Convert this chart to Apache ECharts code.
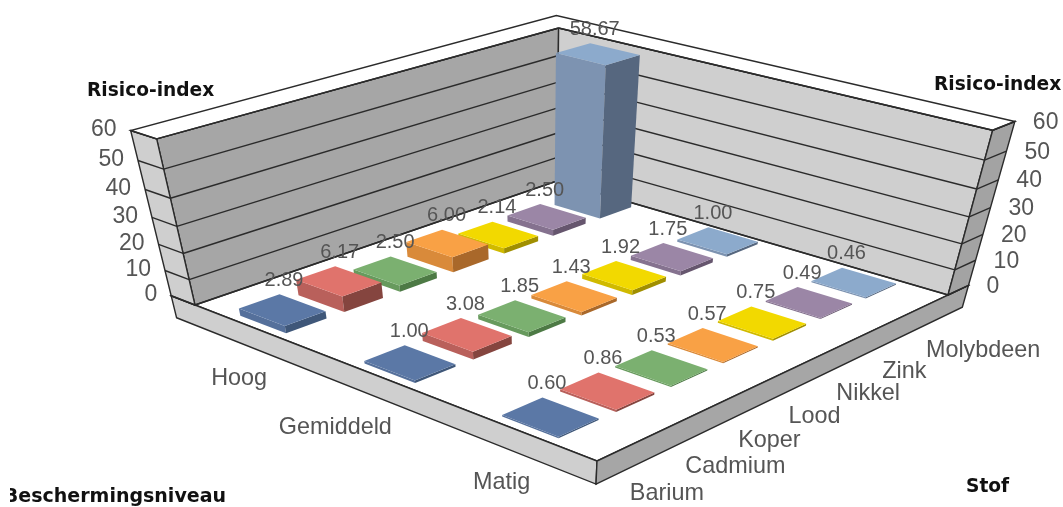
<!DOCTYPE html>
<html>
<head>
<meta charset="utf-8">
<style>
  html, body { margin: 0; background: #fff; }
  #chart { width: 1063px; height: 507px; filter: blur(0.5px); }
</style>
<script src="https://cdn.jsdelivr.net/npm/echarts@6/dist/echarts.min.js"></script>
</head>
<body>
<div id="chart"></div>
<script>
const stoffen = ['Barium', 'Cadmium', 'Koper', 'Lood', 'Nikkel', 'Zink', 'Molybdeen'];
const niveaus = ['Hoog', 'Gemiddeld', 'Matig'];
const hoog = [2.89, 6.17, 2.50, 6.00, 2.14, 2.50, 58.67];
const gemiddeld = [1.00, 3.08, 1.85, 1.43, 1.92, 1.75, 1.00];
const matig = [0.60, 0.86, 0.53, 0.57, 0.75, 0.49, 0.46];
const ticks = [0, 10, 20, 30, 40, 50, 60];
const zMax = 60;

// [top, left face, right face] per stof
const colors = [
  ['#5b78a6', '#55709b', '#3f5779'],
  ['#e0736c', '#b9605b', '#85453f'],
  ['#7bb070', '#679a5d', '#4d7a45'],
  ['#f9a145', '#d98a3a', '#a9682a'],
  ['#f2d900', '#d0ba00', '#a08f00'],
  ['#9b86a6', '#85728f', '#66566e'],
  ['#8caacc', '#7d93b1', '#56677f']
];

// camera: floor corners on screen + vertical vanishing point
const floorL = [195, 305], floorB = [557, 181], floorR = [948, 295], floorF = [597, 461];
const vanish = [540, 1800];
const backTopY = 28;
const wallT = 0.07;
const slabS = 0.15;

const dx1 = floorB[0] - floorR[0], dx2 = floorF[0] - floorR[0], sx = floorL[0] - floorB[0] + floorR[0] - floorF[0];
const dy1 = floorB[1] - floorR[1], dy2 = floorF[1] - floorR[1], sy = floorL[1] - floorB[1] + floorR[1] - floorF[1];
const det = dx1 * dy2 - dx2 * dy1;
const hg = (sx * dy2 - dx2 * sy) / det, hh = (dx1 * sy - sx * dy1) / det;
const ha = floorB[0] - floorL[0] + hg * floorB[0], hb = floorF[0] - floorL[0] + hh * floorF[0], hc = floorL[0];
const hd = floorB[1] - floorL[1] + hg * floorB[1], he = floorF[1] - floorL[1] + hh * floorF[1], hf = floorL[1];
const kz = (backTopY - floorB[1]) * (hg + 1) / (vanish[1] - backTopY);

function project(u, v, z) {
  const w = hg * u + hh * v + 1 + kz * z;
  return [
    (ha * u + hb * v + hc + kz * z * vanish[0]) / w,
    (hd * u + he * v + hf + kz * z * vanish[1]) / w
  ];
}

function poly(pts, fill, extra) {
  return Object.assign({
    type: 'polygon',
    shape: { points: pts.map(p => project(p[0], p[1], p[2])) },
    style: { fill: fill, stroke: '#2b2b2b', lineWidth: 1.4 },
    silent: true
  }, extra);
}

function line(a, b) {
  const p = project(a[0], a[1], a[2]), q = project(b[0], b[1], b[2]);
  return {
    type: 'line',
    shape: { x1: p[0], y1: p[1], x2: q[0], y2: q[1] },
    style: { stroke: '#2b2b2b', lineWidth: 1.4 },
    silent: true
  };
}

function label(text, x, y, size, align, bold) {
  return {
    type: 'text',
    x: x,
    y: y,
    silent: true,
    style: {
      text: text,
      fill: bold ? '#111' : '#555',
      font: (bold ? 'bold ' : '') + size + 'px ' + (bold ? '"DejaVu Sans"' : '"Liberation Sans"'),
      align: align,
      verticalAlign: 'middle'
    }
  };
}

function frame() {
  const t = wallT, s = slabS;
  const out = [
    poly([[0, -t, 0], [1 + t, -t, 0], [1 + t, 1, 0], [0, 1, 0]], '#fff'),
    poly([[0, -t, -s], [0, 1, -s], [0, 1, 0], [0, -t, 0]], '#cfcfcf'),
    poly([[0, 1, -s], [1 + t, 1, -s], [1 + t, 1, 0], [0, 1, 0]], '#a6a6a6'),
    poly([[0, 0, 0], [1, 0, 0], [1, 0, 1], [0, 0, 1]], '#a6a6a6'),
    poly([[1, 0, 0], [1, 1, 0], [1, 1, 1], [1, 0, 1]], '#cfcfcf'),
    poly([[0, -t, 0], [0, 0, 0], [0, 0, 1], [0, -t, 1]], '#cfcfcf'),
    poly([[1, 1, 0], [1 + t, 1, 0], [1 + t, 1, 1], [1, 1, 1]], '#a3a3a3'),
    poly([[0, 0, 1], [1, 0, 1], [1, 1, 1], [1 + t, 1, 1], [1 + t, -t, 1], [0, -t, 1]], '#fff')
  ];
  ticks.forEach(tk => {
    const z = tk / zMax;
    out.push(line([0, 0, z], [1, 0, z]), line([1, 0, z], [1, 1, z]));
    out.push(line([0, -t, z], [0, 0, z]), line([1, 1, z], [1 + t, 1, z]));
    const pl = project(0, -t, z), pr = project(1 + t, 1, z);
    out.push(label(String(tk), pl[0] - 14, pl[1] - 1, 23, 'right'));
    out.push(label(String(tk), pr[0] + 18, pr[1] + 1, 23, 'left'));
  });
  stoffen.forEach((name, i) => {
    const p = project((i + 0.5) / stoffen.length, 1, -s);
    out.push(label(name, p[0] + 5, p[1] + 23, 23.4, 'left'));
  });
  niveaus.forEach((name, i) => {
    const p = project(0, (i + 0.5) / niveaus.length, -s);
    out.push(label(name, p[0] + 9, p[1] + 28, 23.4, 'right'));
  });
  out.push(label('Risico-index', 87, 91, 18.6, 'left', true));
  out.push(label('Risico-index', 934, 85, 18.6, 'left', true));
  out.push(label('Beschermingsniveau', 226, 497, 19, 'right', true));
  out.push({ type: 'rect', shape: { x: 0, y: 485, width: 10, height: 22 }, style: { fill: '#fff' }, silent: true, z: 10 });
  out.push(label('Stof', 966, 487, 18.6, 'left', true));
  return out;
}

const barData = [];
[hoog, gemiddeld, matig].forEach((row, lvl) => {
  for (let i = row.length - 1; i >= 0; i--) barData.push([i, lvl, row[i]]);
});

function renderBar(params, api) {
  const W = api.getWidth(), H = api.getHeight();
  const idx = api.value(0);
  const c = api.coord([idx, api.value(1)]);
  const band = api.size([1, 1]);
  const u = c[0] / W, v = c[1] / H;
  const du = band[0] / W * 0.345, dv = band[1] / H * 0.19;
  const val = api.value(2), z = val / zMax;
  const col = colors[idx];
  const u0 = u - du, u1 = u + du, v0 = v - dv, v1 = v + dv;
  const top = project(u1, v0, z);
  const face = (pts, fill) => poly(pts, fill, { style: { fill: fill } });
  return {
    type: 'group',
    children: [
      face([[u0, v0, 0], [u0, v1, 0], [u0, v1, z], [u0, v0, z]], col[1]),
      face([[u0, v1, 0], [u1, v1, 0], [u1, v1, z], [u0, v1, z]], col[2]),
      face([[u0, v0, z], [u1, v0, z], [u1, v1, z], [u0, v1, z]], col[0]),
      Object.assign(label(val.toFixed(2), top[0] + 4.5, top[1] - 14, 20, 'center'), { z2: 100 })
    ]
  };
}

const chart = echarts.init(document.getElementById('chart'));
chart.setOption({
  animation: false,
  backgroundColor: '#fff',
  grid: { left: 0, right: 0, top: 0, bottom: 0 },
  xAxis: { type: 'category', data: stoffen, show: false },
  yAxis: { type: 'category', data: niveaus, inverse: true, show: false },
  graphic: { elements: frame() },
  series: [{
    type: 'custom',
    coordinateSystem: 'cartesian2d',
    renderItem: renderBar,
    data: barData,
    z: 5
  }]
});
</script>
</body>
</html>
